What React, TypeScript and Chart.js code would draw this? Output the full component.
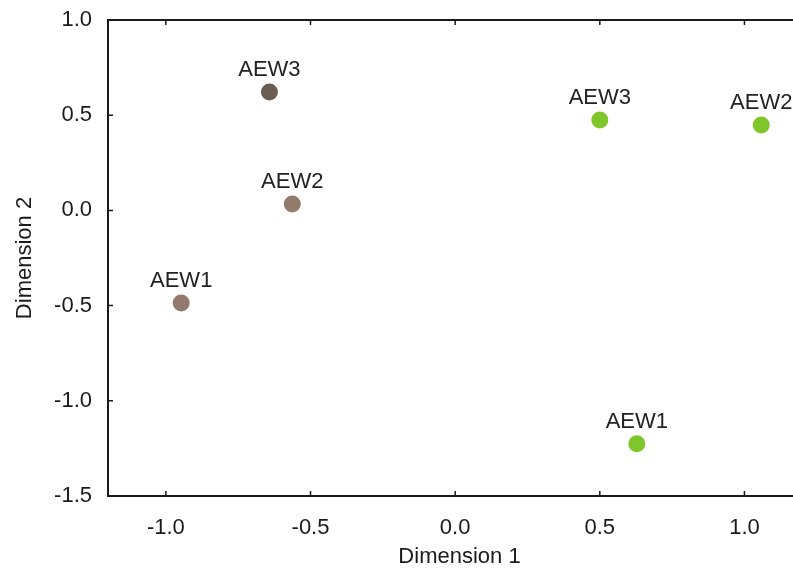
import React, { useEffect, useRef } from "react";
import { Chart, registerables } from "chart.js";

Chart.register(...registerables);

const brownLabels = ["AEW1", "AEW2", "AEW3"];
const brownX = [-0.947, -0.563, -0.642];
const brownY = [-0.486, 0.034, 0.622];
const brownColors = ["#947a6c", "#947a6c", "#6b5d50"];

const greenLabels = ["AEW1", "AEW2", "AEW3"];
const greenX = [0.628, 1.058, 0.5];
const greenY = [-1.226, 0.449, 0.475];
const greenColors = ["#7ec62a", "#7ec62a", "#7ec62a"];

const xTicks = [-1.0, -0.5, 0.0, 0.5, 1.0];
const yTicks = [-1.5, -1.0, -0.5, 0.0, 0.5, 1.0];

const FONT = "'Liberation Sans', Arial, sans-serif";
const INK = "#1a1a1a";

const framePlugin = {
  id: "frame",
  afterDatasetsDraw(chart: any) {
    const { ctx, chartArea } = chart;
    const { left, right, top, bottom } = chartArea;
    const xs = chart.scales.x;
    const ys = chart.scales.y;
    ctx.save();
    ctx.strokeStyle = INK;
    ctx.lineWidth = 2;
    ctx.strokeRect(left, top, right - left, bottom - top);
    ctx.lineWidth = 1.5;
    const tl = 5;
    ctx.beginPath();
    xTicks.forEach((v) => {
      const px = xs.getPixelForValue(v);
      ctx.moveTo(px, bottom);
      ctx.lineTo(px, bottom - tl);
      ctx.moveTo(px, top);
      ctx.lineTo(px, top + tl);
    });
    yTicks.forEach((v) => {
      const py = ys.getPixelForValue(v);
      ctx.moveTo(left, py);
      ctx.lineTo(left + tl, py);
      ctx.moveTo(right, py);
      ctx.lineTo(right - tl, py);
    });
    ctx.stroke();
    ctx.restore();
  },
};

const labelPlugin = {
  id: "pointLabels",
  afterDatasetsDraw(chart: any) {
    const { ctx } = chart;
    ctx.save();
    ctx.font = `22px ${FONT}`;
    ctx.fillStyle = "#222";
    ctx.textAlign = "center";
    ctx.textBaseline = "alphabetic";
    chart.data.datasets.forEach((ds: any, i: number) => {
      const meta = chart.getDatasetMeta(i);
      meta.data.forEach((el: any, j: number) => {
        ctx.fillText(ds.pointLabels[j], el.x, el.y - 16);
      });
    });
    ctx.restore();
  },
};

export default function App() {
  const ref = useRef<HTMLCanvasElement>(null);
  useEffect(() => {
    if (!ref.current) return;
    const chart = new Chart(ref.current, {
      type: "scatter",
      data: {
        datasets: [
          {
            label: "Brown",
            data: brownX.map((x, i) => ({ x, y: brownY[i] })),
            pointBackgroundColor: brownColors,
            pointBorderWidth: 0,
            pointRadius: 8.5,
            pointLabels: brownLabels,
          } as any,
          {
            label: "Green",
            data: greenX.map((x, i) => ({ x, y: greenY[i] })),
            pointBackgroundColor: greenColors,
            pointBorderWidth: 0,
            pointRadius: 8.5,
            pointLabels: greenLabels,
          } as any,
        ],
      },
      options: {
        animation: false,
        responsive: true,
        maintainAspectRatio: false,
        layout: { padding: { top: 20, right: 10, left: 0, bottom: 0 } },
        plugins: { legend: { display: false }, tooltip: { enabled: false } },
        scales: {
          x: {
            type: "linear",
            min: -1.2,
            max: 1.23,
            grid: { display: false, drawTicks: false },
            border: { display: false },
            afterBuildTicks: (s: any) => {
              s.ticks = xTicks.map((v) => ({ value: v }));
            },
            afterFit: (s: any) => {
              s.height = 73;
              s.paddingLeft = 0;
              s.paddingRight = 0;
            },
            ticks: {
              padding: 19,
              color: INK,
              font: { family: FONT, size: 22 },
              callback: (v: any) => Number(v).toFixed(1),
            },
            title: {
              display: true,
              text: "Dimension 1",
              color: INK,
              font: { family: FONT, size: 22 },
              padding: { top: 0, bottom: -1 },
            },
          },
          y: {
            type: "linear",
            min: -1.5,
            max: 1.0,
            grid: { display: false, drawTicks: false },
            border: { display: false },
            afterBuildTicks: (s: any) => {
              s.ticks = yTicks.map((v) => ({ value: v }));
            },
            afterFit: (s: any) => {
              s.width = 108;
              s.paddingTop = 0;
              s.paddingBottom = 0;
            },
            ticks: {
              padding: 16,
              color: INK,
              font: { family: FONT, size: 22 },
              callback: (v: any) => Number(v).toFixed(1),
            },
            title: {
              display: true,
              text: "Dimension 2",
              color: INK,
              font: { family: FONT, size: 22 },
              padding: { top: 12, bottom: 0 },
            },
          },
        },
      },
      plugins: [framePlugin, labelPlugin],
    });
    return () => chart.destroy();
  }, []);

  return (
    <div
      style={{
        position: "absolute",
        left: 0,
        top: 0,
        width: 793,
        height: 569,
        overflow: "hidden",
        background: "#fff",
      }}
    >
      <div style={{ position: "relative", width: 821, height: 569 }}>
        <canvas ref={ref} />
      </div>
    </div>
  );
}
